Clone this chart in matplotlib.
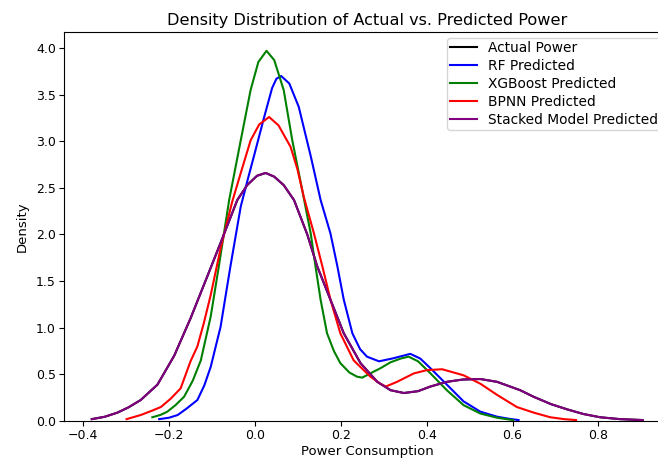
import matplotlib
matplotlib.use("Agg")
import matplotlib.pyplot as plt

# Density curves (x = power consumption, y = density)
rf_x = [-0.223, -0.200, -0.180, -0.160, -0.134, -0.118, -0.103, -0.080, -0.057, -0.033,
        -0.015, 0.000, 0.021, 0.040, 0.050, 0.061, 0.080, 0.102, 0.130, 0.153, 0.176,
        0.192, 0.207, 0.227, 0.245, 0.261, 0.289, 0.320, 0.362, 0.385, 0.409, 0.447,
        0.486, 0.525, 0.564, 0.590, 0.614]
rf_y = [0.02, 0.035, 0.064, 0.13, 0.225, 0.38, 0.58, 1.01, 1.66, 2.30,
        2.62, 2.88, 3.25, 3.57, 3.67, 3.70, 3.62, 3.37, 2.84, 2.37, 2.01,
        1.66, 1.30, 0.94, 0.77, 0.69, 0.64, 0.67, 0.72, 0.67, 0.565, 0.39,
        0.21, 0.10, 0.046, 0.025, 0.01]

xgb_x = [-0.239, -0.220, -0.204, -0.185, -0.165, -0.145, -0.126, -0.103, -0.084, -0.060,
         -0.033, -0.010, 0.008, 0.027, 0.045, 0.067, 0.087, 0.110, 0.130, 0.141, 0.153,
         0.168, 0.184, 0.199, 0.220, 0.238, 0.250, 0.277, 0.292, 0.316, 0.340, 0.358,
         0.380, 0.409, 0.447, 0.486, 0.525, 0.564, 0.601]
xgb_y = [0.04, 0.065, 0.10, 0.17, 0.26, 0.43, 0.65, 1.12, 1.66, 2.37,
         3.01, 3.55, 3.85, 3.97, 3.87, 3.55, 3.01, 2.48, 2.01, 1.66, 1.30,
         0.94, 0.75, 0.62, 0.52, 0.475, 0.465, 0.53, 0.565, 0.63, 0.67, 0.69,
         0.64, 0.51, 0.33, 0.17, 0.08, 0.035, 0.01]

bpnn_x = [-0.299, -0.266, -0.240, -0.219, -0.196, -0.173, -0.150, -0.134, -0.119, -0.103,
          -0.080, -0.053, -0.033, -0.010, 0.010, 0.033, 0.055, 0.083, 0.099, 0.114,
          0.137, 0.157, 0.176, 0.199, 0.230, 0.269, 0.292, 0.305, 0.331, 0.370, 0.400,
          0.436, 0.486, 0.525, 0.564, 0.610, 0.649, 0.688, 0.720, 0.748]
bpnn_y = [0.02, 0.064, 0.11, 0.15, 0.24, 0.35, 0.64, 0.80, 1.05, 1.35,
          1.85, 2.35, 2.66, 3.01, 3.18, 3.26, 3.17, 2.94, 2.70, 2.40,
          2.02, 1.66, 1.30, 0.94, 0.65, 0.475, 0.40, 0.37, 0.42, 0.51, 0.545,
          0.555, 0.49, 0.40, 0.28, 0.15, 0.09, 0.04, 0.02, 0.01]

stacked_x = [-0.380, -0.350, -0.320, -0.295, -0.266, -0.227, -0.188, -0.150, -0.111, -0.080,
             -0.041, -0.018, 0.005, 0.025, 0.045, 0.067, 0.091, 0.122, 0.145, 0.176,
             0.207, 0.246, 0.285, 0.316, 0.347, 0.380, 0.409, 0.447, 0.485, 0.525,
             0.564, 0.618, 0.649, 0.690, 0.727, 0.765, 0.804, 0.850, 0.903]
stacked_y = [0.02, 0.045, 0.09, 0.145, 0.225, 0.39, 0.70, 1.10, 1.55, 1.91,
             2.37, 2.53, 2.63, 2.66, 2.62, 2.53, 2.37, 2.00, 1.66, 1.30,
             0.94, 0.62, 0.42, 0.33, 0.30, 0.32, 0.37, 0.42, 0.445, 0.45,
             0.42, 0.33, 0.26, 0.18, 0.125, 0.075, 0.04, 0.02, 0.01]

# Actual power curve is hidden beneath the stacked-model curve in the reference
actual_x = stacked_x
actual_y = stacked_y

labels = ["Actual Power", "RF Predicted", "XGBoost Predicted", "BPNN Predicted",
          "Stacked Model Predicted"]
colors = ["black", "blue", "green", "red", "purple"]

fig = plt.figure(figsize=(6.58, 4.58), dpi=100)
ax = fig.add_axes([0.0977, 0.0808, 0.922, 0.849])

series = [(actual_x, actual_y), (rf_x, rf_y), (xgb_x, xgb_y), (bpnn_x, bpnn_y),
          (stacked_x, stacked_y)]
for (xs, ys), lab, col in zip(series, labels, colors):
    ax.plot(xs, ys, color=col, label=lab, linewidth=1.5)

ax.set_xlim(-0.444, 0.969)
ax.set_ylim(0, 4.17)
ax.set_xticks([-0.4, -0.2, 0.0, 0.2, 0.4, 0.6, 0.8])
ax.set_yticks([0.0, 0.5, 1.0, 1.5, 2.0, 2.5, 3.0, 3.5, 4.0])
ax.tick_params(labelsize=9, pad=2.5)
ax.set_xlabel("Power Consumption", fontsize=9.5, labelpad=2)
ax.set_ylabel("Density", fontsize=9.5, labelpad=5)
ax.set_title("Density Distribution of Actual vs. Predicted Power", fontsize=11.6, pad=5)
ax.legend(loc="upper left", bbox_to_anchor=(447 / 658, 1 - 38 / 458),
          bbox_transform=fig.transFigure, fontsize=9.9, labelspacing=0.3,
          borderpad=0.2, borderaxespad=0.0)

fig.savefig("out.png", dpi=100)
